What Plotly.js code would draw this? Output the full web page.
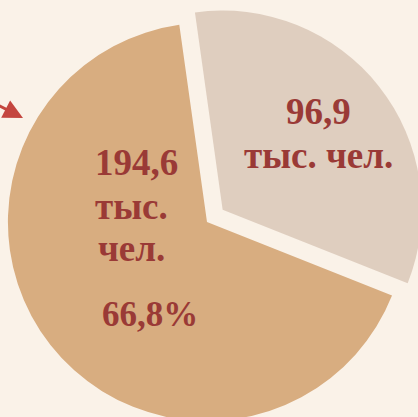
<!DOCTYPE html>
<html><head><meta charset="utf-8">
<script src="https://cdn.plot.ly/plotly-3.0.1.min.js"></script>
<style>
html,body{margin:0;padding:0;width:418px;height:417px;overflow:hidden;background:#FAF2E8;}
#chart{position:absolute;left:-12px;top:3px;width:438px;height:438px;}
</style></head>
<body><div id="chart"></div>
<script>
const categories = ['Группа 1', 'Группа 2'];
const values = [96.9, 194.6];
const unitText = 'тыс. чел.';
const percentShown = ['', '66,8%'];
const sliceColors = ['#DFCEBF', '#D8AD80'];

const W = 438, OX = -12, OY = 3;
function px(x){ return (x - OX) / W; }
function py(y){ return 1 - (y - OY) / W; }
function fmt(v){ return v.toFixed(1).replace('.', ','); }

function mkFont(size){ return {family: '"Liberation Serif", "Times New Roman", serif', size: size, color: '#9A3A36'}; }
function ann(text, x, y, xanchor, size){
  return {text: '<b>' + text + '</b>', x: px(x), y: py(y), xref: 'paper', yref: 'paper',
    showarrow: false, xanchor: xanchor || 'left', yanchor: 'middle', font: mkFont(size || 37)};
}
const unitParts = unitText.split(' ');
const annotations = [
  ann(fmt(values[1]), 93, 162),
  ann(unitParts[0], 93, 206),
  ann(unitParts[1], 96, 248),
  ann(percentShown[1], 100, 314, 'left', 35),
  ann(fmt(values[0]), 318, 111, 'center'),
  ann(unitText, 318, 155, 'center'),
  {text: ' ', x: px(23), y: py(118), xref: 'paper', yref: 'paper', showarrow: true,
   ax: -50, ay: -18, arrowhead: 2, arrowsize: 1.3, arrowwidth: 3, arrowcolor: '#C4463F'}
];

Plotly.newPlot('chart', [{
  type: 'pie', labels: categories, values: values, sort: false, direction: 'clockwise',
  rotation: -8, pull: [0.1, 0], textinfo: 'none', hoverinfo: 'none',
  marker: {colors: sliceColors, line: {width: 0}}, showlegend: false
}], {
  width: 438, height: 438, margin: {l: 0, r: 0, t: 0, b: 0},
  paper_bgcolor: '#FAF2E8', plot_bgcolor: '#FAF2E8', showlegend: false,
  annotations: annotations
}, {displayModeBar: false, staticPlot: true});
</script></body></html>
